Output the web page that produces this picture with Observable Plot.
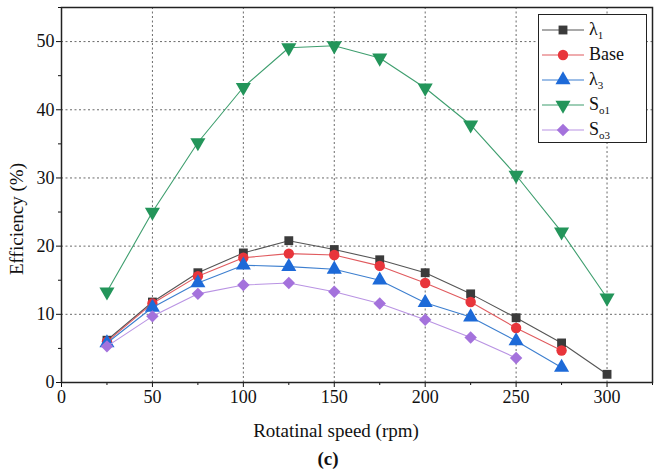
<!DOCTYPE html>
<html>
<head>
<meta charset="utf-8">
<script src="https://cdn.jsdelivr.net/npm/d3@7"></script>
<script src="https://cdn.jsdelivr.net/npm/@observablehq/plot@0.6"></script>
<style>
  body { margin: 0; background: white; }
  #wrap { position: relative; width: 660px; height: 469px; font-family: "Liberation Serif", "DejaVu Serif", serif; color: #111; }
  #legend { position: absolute; left: 538px; top: 14px; width: 109px; height: 129px; border: 1.5px solid #222; background: white; box-sizing: border-box; padding-top: 2px; }
  .row { display: flex; align-items: center; height: 25px; font-size: 18px; font-family: "Liberation Serif", "DejaVu Serif", serif; }
  .row svg { margin-left: 2px; margin-right: 4px; }
  sub { font-size: 11px; vertical-align: -4px; }
  #cap { position: absolute; left: 0; width: 656px; top: 448px; text-align: center; font-weight: bold; font-size: 19px; font-family: "Liberation Serif", "DejaVu Serif", serif; }
</style>
</head>
<body>
<div id="wrap"></div>
<script>
const speeds = [25, 50, 75, 100, 125, 150, 175, 200, 225, 250, 275, 300];
const seriesNames = ["λ1", "Base", "λ3", "So1", "So3"];
const lambda1 = [6.2, 11.8, 16.1, 19.0, 20.8, 19.5, 18.0, 16.1, 13.0, 9.5, 5.8, 1.2];
const base    = [6.0, 11.6, 15.6, 18.3, 18.9, 18.7, 17.1, 14.6, 11.8, 8.0, 4.7];
const lambda3 = [5.8, 11.0, 14.6, 17.2, 17.0, 16.6, 15.0, 11.7, 9.6, 6.1, 2.2];
const so1     = [13.3, 25.0, 35.2, 43.3, 49.1, 49.4, 47.6, 43.2, 37.8, 30.4, 22.1, 12.4];
const so3     = [5.3, 9.7, 13.0, 14.3, 14.6, 13.3, 11.6, 9.2, 6.6, 3.6];
const xTicks = [0, 50, 100, 150, 200, 250, 300];
const xMinor = [25, 75, 125, 175, 225, 275, 325];
const yTicks = [0, 10, 20, 30, 40, 50];
const yMinor = [5, 15, 25, 35, 45, 55];

const serif = "'Liberation Serif', 'DejaVu Serif', serif";

const styles = [
  {name: "λ1", values: lambda1, fill: "#3b3b3b", stroke: "#555555", symbol: "square", rotate: 0, r: 5},
  {name: "Base", values: base, fill: "#e8353b", stroke: "#e05a5e", symbol: "circle", rotate: 0, r: 5.2},
  {name: "λ3", values: lambda3, fill: "#1d6ad8", stroke: "#3d7fcf", symbol: "triangle", rotate: 0, r: 5.6},
  {name: "So1", values: so1, fill: "#23955a", stroke: "#3e9e6e", symbol: "triangle", rotate: 180, r: 5.6},
  {name: "So3", values: so3, fill: "#a472dc", stroke: "#b993e3", symbol: "diamond2", rotate: 0, r: 5.6}
];

const seriesMarks = styles.flatMap(s => {
  const data = s.values.map((v, i) => ({speed: speeds[i], eff: v}));
  return [
    Plot.line(data, {x: "speed", y: "eff", stroke: s.stroke, strokeWidth: 1.1}),
    Plot.dot(data, {x: "speed", y: "eff", fill: s.fill, stroke: "none", symbol: () => s.symbol, r: s.r, rotate: s.rotate})
  ];
});

const grid = {stroke: "#6a6a6a", strokeOpacity: 1, strokeDasharray: "2,2.5", strokeWidth: 1};

const chart = Plot.plot({
  width: 660,
  height: 445,
  marginLeft: 61,
  marginRight: 8,
  marginTop: 7,
  marginBottom: 63,
  style: {fontFamily: serif, fontSize: "18px", color: "#111", background: "white", overflow: "visible"},
  x: {domain: [0, 325]},
  y: {domain: [0, 55]},
  marks: [
    Plot.gridX(xTicks.filter(d => d > 0), grid),
    Plot.gridY(yTicks.filter(d => d > 0), grid),
    Plot.axisX(xTicks, {tickSize: 5, tickPadding: 3, label: null, fontSize: 18, fontFamily: serif}),
    Plot.axisX(xMinor, {tickSize: 3, tickFormat: () => "", label: null}),
    Plot.axisY(yTicks, {tickSize: 5, tickPadding: 2, label: null, fontSize: 18, fontFamily: serif}),
    Plot.axisY(yMinor, {tickSize: 3, tickFormat: () => "", label: null}),
    Plot.text(["Rotatinal speed (rpm)"], {frameAnchor: "bottom", textAnchor: "middle", lineAnchor: "middle", dy: 48, dx: -21, fontSize: 19, fill: "#111", fontFamily: serif}),
    Plot.text(["Efficiency (%)"], {frameAnchor: "left", textAnchor: "middle", lineAnchor: "middle", rotate: -90, dx: -45, dy: 24, fontSize: 19, fill: "#111", fontFamily: serif}),
    Plot.frame({stroke: "#222", strokeWidth: 1.5}),
    ...seriesMarks
  ]
});

const wrap = document.getElementById("wrap");
wrap.appendChild(chart);

// legend
const legend = document.createElement("div");
legend.id = "legend";
const labelsHtml = ["λ<sub>1</sub>", "Base", "λ<sub>3</sub>", "S<sub>o1</sub>", "S<sub>o3</sub>"];
const symMap = {square: d3.symbolSquare, circle: d3.symbolCircle, triangle: d3.symbolTriangle, diamond2: d3.symbolDiamond2};
styles.forEach((s, i) => {
  const row = document.createElement("div");
  row.className = "row";
  const svg = d3.create("svg").attr("width", 44).attr("height", 20);
  svg.append("line").attr("x1", 1).attr("x2", 43).attr("y1", 10).attr("y2", 10).attr("stroke", s.stroke).attr("stroke-width", 1.2);
  svg.append("path")
    .attr("d", d3.symbol(symMap[s.symbol], Math.PI * s.r * s.r)())
    .attr("transform", `translate(22,10) rotate(${s.rotate})`)
    .attr("fill", s.fill);
  row.appendChild(svg.node());
  const lab = document.createElement("span");
  lab.innerHTML = labelsHtml[i];
  row.appendChild(lab);
  legend.appendChild(row);
});
wrap.appendChild(legend);

const cap = document.createElement("div");
cap.id = "cap";
cap.textContent = "(c)";
wrap.appendChild(cap);
</script>
</body>
</html>
